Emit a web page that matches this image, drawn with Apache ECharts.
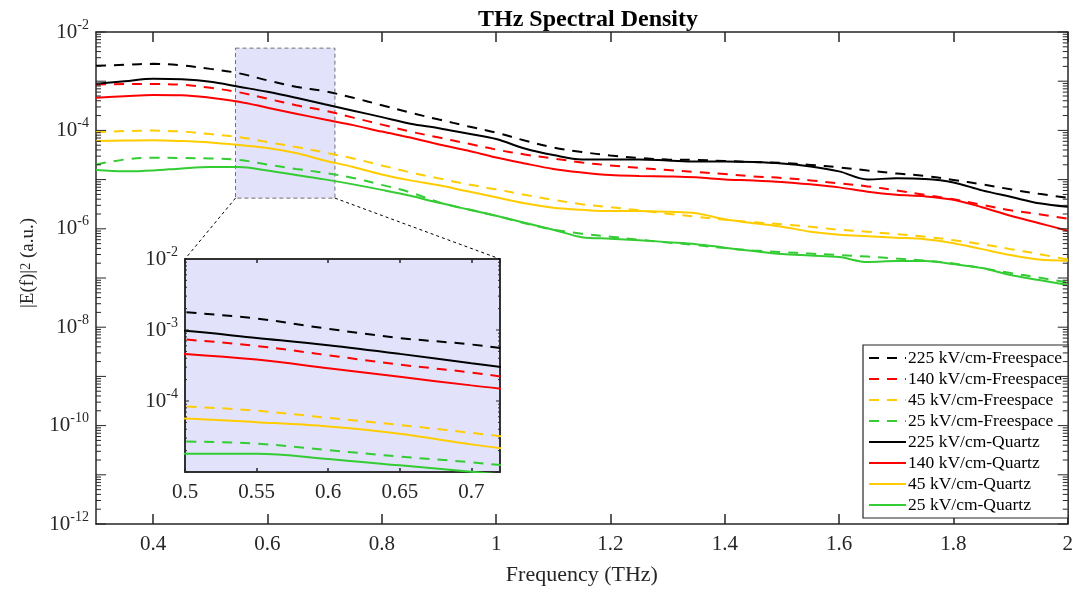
<!DOCTYPE html>
<html>
<head>
<meta charset="utf-8">
<script src="https://cdn.jsdelivr.net/npm/echarts@6/dist/echarts.min.js"></script>
<style>
html, body { margin: 0; padding: 0; background: #fff; }
#main { width: 1076px; height: 591px; }
</style>
</head>
<body>
<div id="main"></div>
<script>
// frequency grid (THz)
var freq = [0.30, 0.35, 0.40, 0.45, 0.50, 0.55, 0.60, 0.65, 0.70, 0.75, 0.80, 0.85, 0.90, 0.95, 1.00,
            1.05, 1.10, 1.15, 1.20, 1.25, 1.30, 1.35, 1.40, 1.45, 1.50, 1.55, 1.60, 1.65, 1.70, 1.75,
            1.80, 1.85, 1.90, 1.95, 2.00];

// |E(f)|^2, freespace (dashed)
var fs225 = [2.05e-3, 2.15e-3, 2.25e-3, 2.10e-3, 1.78e-3, 1.45e-3, 1.04e-3, 7.71e-4, 6.25e-4, 4.61e-4,
             3.25e-4, 2.29e-4, 1.66e-4, 1.22e-4, 9.02e-5, 6.22e-5, 4.49e-5, 3.64e-5, 3.09e-5, 2.75e-5,
             2.56e-5, 2.51e-5, 2.39e-5, 2.28e-5, 2.18e-5, 1.99e-5, 1.77e-5, 1.53e-5, 1.33e-5, 1.19e-5,
             9.86e-6, 8.0e-6, 6.34e-6, 5.13e-6, 4.27e-6];
var fs140 = [8.57e-4, 8.73e-4, 8.77e-4, 8.45e-4, 7.35e-4, 5.96e-4, 4.41e-4, 3.25e-4, 2.52e-4, 1.82e-4,
             1.31e-4, 9.46e-5, 7.15e-5, 5.41e-5, 4.08e-5, 3.24e-5, 2.69e-5, 2.23e-5, 1.94e-5, 1.73e-5,
             1.57e-5, 1.43e-5, 1.30e-5, 1.16e-5, 1.08e-5, 9.64e-6, 8.37e-6, 7.28e-6, 6.04e-6, 4.90e-6,
             3.97e-6, 3.08e-6, 2.38e-6, 1.98e-6, 1.60e-6];
var fs45 = [9.16e-5, 9.68e-5, 9.91e-5, 9.46e-5, 8.41e-5, 7.31e-5, 5.79e-5, 4.59e-5, 3.56e-5, 2.69e-5,
            1.94e-5, 1.40e-5, 1.06e-5, 8.0e-6, 6.34e-6, 4.90e-6, 3.88e-6, 3.15e-6, 2.74e-6, 2.38e-6,
            2.02e-6, 1.76e-6, 1.53e-6, 1.36e-6, 1.24e-6, 1.10e-6, 9.59e-7, 8.73e-7, 7.78e-7, 6.92e-7,
            5.87e-7, 4.88e-7, 3.86e-7, 3.06e-7, 2.37e-7];
var fs25 = [2.03e-5, 2.56e-5, 2.77e-5, 2.75e-5, 2.69e-5, 2.51e-5, 2.03e-5, 1.65e-5, 1.37e-5, 1.08e-5,
            7.82e-6, 5.51e-6, 3.45e-6, 2.49e-6, 1.84e-6, 1.30e-6, 9.59e-7, 7.96e-7, 6.92e-7, 6.01e-7,
            5.24e-7, 4.66e-7, 4.05e-7, 3.61e-7, 3.36e-7, 3.13e-7, 2.92e-7, 2.72e-7, 2.48e-7, 2.26e-7,
            1.97e-7, 1.59e-7, 1.26e-7, 1.02e-7, 8.11e-8];

// |E(f)|^2, quartz (solid)
var qz225 = [8.85e-4, 9.95e-4, 1.12e-3, 1.09e-3, 9.73e-4, 7.71e-4, 6.10e-4, 4.61e-4, 3.40e-4, 2.52e-4,
             1.86e-4, 1.37e-4, 1.11e-4, 8.61e-5, 6.67e-5, 4.29e-5, 3.16e-5, 2.56e-5, 2.56e-5, 2.56e-5,
             2.45e-5, 2.33e-5, 2.33e-5, 2.28e-5, 2.13e-5, 1.85e-5, 1.47e-5, 1.01e-5, 1.06e-5, 1.03e-5,
             8.77e-6, 6.04e-6, 4.47e-6, 3.30e-6, 2.80e-6];
var qz140 = [4.61e-4, 4.94e-4, 5.26e-4, 5.19e-4, 4.61e-4, 3.83e-4, 2.90e-4, 2.19e-4, 1.66e-4, 1.28e-4,
             9.46e-5, 7.15e-5, 5.16e-5, 3.90e-5, 2.81e-5, 2.13e-5, 1.65e-5, 1.40e-5, 1.24e-5, 1.19e-5,
             1.16e-5, 1.11e-5, 1.01e-5, 9.64e-6, 8.97e-6, 8.0e-6, 6.95e-6, 5.64e-6, 4.90e-6, 4.57e-6,
             3.88e-6, 2.74e-6, 1.84e-6, 1.30e-6, 9.14e-7];
var qz45 = [6.12e-5, 6.22e-5, 6.31e-5, 6.07e-5, 5.66e-5, 5.04e-5, 4.39e-5, 3.47e-5, 2.45e-5, 1.81e-5,
            1.27e-5, 9.64e-6, 7.64e-6, 5.77e-6, 4.37e-6, 3.30e-6, 2.67e-6, 2.44e-6, 2.30e-6, 2.30e-6,
            2.22e-6, 2.07e-6, 1.56e-6, 1.30e-6, 1.10e-6, 8.73e-7, 7.59e-7, 7.08e-7, 6.61e-7, 6.15e-7,
            5.11e-7, 3.86e-7, 2.92e-7, 2.37e-7, 2.24e-7];
var qz25 = [1.56e-5, 1.47e-5, 1.53e-5, 1.69e-5, 1.81e-5, 1.81e-5, 1.53e-5, 1.24e-5, 1.01e-5, 8.0e-6,
            6.18e-6, 4.68e-6, 3.37e-6, 2.49e-6, 1.84e-6, 1.33e-6, 9.59e-7, 6.76e-7, 6.31e-7, 5.87e-7,
            5.36e-7, 4.88e-7, 4.14e-7, 3.52e-7, 3.06e-7, 2.86e-7, 2.66e-7, 2.11e-7, 2.21e-7, 2.21e-7,
            1.92e-7, 1.59e-7, 1.15e-7, 9.10e-8, 7.21e-8];

var seriesNames = ['225 kV/cm-Freespace', '140 kV/cm-Freespace', '45 kV/cm-Freespace', '25 kV/cm-Freespace',
                   '225 kV/cm-Quartz', '140 kV/cm-Quartz', '45 kV/cm-Quartz', '25 kV/cm-Quartz'];
var seriesValues = [fs225, fs140, fs45, fs25, qz225, qz140, qz45, qz25];

var xTicks = [0.4, 0.6, 0.8, 1, 1.2, 1.4, 1.6, 1.8, 2];
var xRange = [0.3, 2];
var yRange = [1e-12, 1e-2];
var insetXRange = [0.5, 0.72];
var insetYRange = [1e-5, 1e-2];
// highlighted region on the main plot
var boxX = [0.544, 0.718];
var boxY = [4.2e-6, 4.7e-3];

var colors = ['#000000', '#ff0000', '#ffcc00', '#33cc33'];
var serif = "'Liberation Serif', 'Times New Roman', serif";
var axisColor = '#262626';
var boxFill = '#e2e2fb';

var chart = echarts.init(document.getElementById('main'));

function powLabel(v) {
    return '10{s|' + Math.round(Math.log10(v)) + '}';
}
var powRich = {
    s: { fontSize: 14, fontFamily: serif, color: axisColor, verticalAlign: 'top', lineHeight: 13 }
};

function logAxis(grid, range, pos, showLabel, split) {
    return {
        type: 'log', logBase: 10, gridIndex: grid, position: pos,
        min: range[0], max: range[1], splitNumber: split, interval: split === 5 ? 2 : 1,
        axisLine: { show: true, onZero: false, lineStyle: { color: axisColor, width: 1.5 } },
        axisTick: { show: false },
        splitLine: { show: false },
        axisLabel: {
            show: showLabel, formatter: powLabel, rich: powRich, margin: 7,
            fontFamily: serif, fontSize: 21, color: axisColor, lineHeight: 28,
            showMinLabel: grid === 0
        }
    };
}

// decade + sub-decade tick values for the log axes
function logTickValues(range) {
    var lo = Math.round(Math.log10(range[0])), hi = Math.round(Math.log10(range[1]));
    var out = [];
    for (var k = lo; k < hi; k++) {
        for (var m = 1; m < 10; m++) out.push(m * Math.pow(10, k));
    }
    out.push(Math.pow(10, hi));
    return out;
}

function tickSeries(ax, xr, yr, major, minor) {
    return {
        type: 'custom', xAxisIndex: ax, yAxisIndex: ax, silent: true, z: 6, animation: false,
        encode: { x: 0, y: 1 },
        data: logTickValues(yr).map(function (v) { return [xr[0], v]; }),
        renderItem: function (params, api) {
            var v = api.value(1);
            var a = api.coord([xr[0], v]);
            var b = api.coord([xr[1], v]);
            var e = Math.log10(v);
            var L = Math.abs(e - Math.round(e)) < 1e-6 ? major : minor;
            var st = { stroke: axisColor, lineWidth: 1 };
            return {
                type: 'group', children: [
                    { type: 'line', shape: { x1: a[0], y1: a[1], x2: a[0] + L, y2: a[1] }, style: st },
                    { type: 'line', shape: { x1: b[0], y1: b[1], x2: b[0] - L, y2: b[1] }, style: st }
                ]
            };
        }
    };
}

var series = [];
seriesNames.forEach(function (name, i) {
    var pts = freq.map(function (f, j) { return [f, seriesValues[i][j]]; });
    var dashed = i < 4;
    [0, 2].forEach(function (ax) {
        var s = {
            name: name, type: 'line', xAxisIndex: ax, yAxisIndex: ax,
            data: pts, symbol: 'none', showSymbol: false, smooth: 0.35, clip: true,
            animation: false, z: dashed ? 3 : 4,
            lineStyle: { color: colors[i % 4], width: 2, type: dashed ? [10, 8] : 'solid' },
            itemStyle: { color: colors[i % 4] }
        };
        if (i === 0 && ax === 0) {
            s.markArea = {
                silent: true,
                itemStyle: { color: boxFill, borderColor: '#707070', borderWidth: 1, borderType: [4, 3] },
                data: [[{ coord: [boxX[0], boxY[1]] }, { coord: [boxX[1], boxY[0]] }]]
            };
        }
        series.push(s);
    });
});
series.push(tickSeries(0, xRange, yRange, 10, 5));
series.push(tickSeries(2, insetXRange, insetYRange, 4, 2));

var option = {
    backgroundColor: '#fff',
    animation: false,
    title: {
        text: 'THz Spectral Density',
        left: 583, top: 3, textAlign: 'center',
        textStyle: { fontFamily: serif, fontWeight: 'bold', fontSize: 24, color: '#000' }
    },
    legend: {
        data: seriesNames,
        orient: 'vertical', left: 863, top: 345,
        padding: [4, 6, 4, 5], itemGap: 3, itemWidth: 37, itemHeight: 14,
        backgroundColor: '#fff', borderColor: axisColor, borderWidth: 1.2,
        itemStyle: { opacity: 0 },
        textStyle: { fontFamily: serif, fontSize: 17.5, lineHeight: 17, color: '#000', padding: [0, 0, 0, -3] }
    },
    grid: [
        { left: 96, top: 32, right: 2, bottom: 65 },
        { left: 185, top: 259, width: 315, height: 213, show: true,
          backgroundColor: boxFill, borderColor: axisColor, borderWidth: 1.5 }
    ],
    xAxis: [
        {
            type: 'value', gridIndex: 0, min: xRange[0], max: xRange[1], position: 'bottom',
            name: 'Frequency (THz)', nameLocation: 'middle', nameGap: 40,
            nameTextStyle: { fontFamily: serif, fontSize: 22, color: axisColor },
            axisLine: { onZero: false, lineStyle: { color: axisColor, width: 1.5 } },
            axisTick: { inside: true, length: 10, customValues: xTicks, lineStyle: { color: axisColor, width: 1.5 } },
            axisLabel: { customValues: xTicks, fontFamily: serif, fontSize: 21, color: axisColor, margin: 10,
                         formatter: function (v) { return String(+v.toFixed(2)); } },
            splitLine: { show: false }
        },
        {
            type: 'value', gridIndex: 0, min: xRange[0], max: xRange[1], position: 'top',
            axisLine: { onZero: false, lineStyle: { color: axisColor, width: 1.5 } },
            axisTick: { inside: true, length: 10, customValues: xTicks, lineStyle: { color: axisColor, width: 1.5 } },
            axisLabel: { show: false }, splitLine: { show: false }
        },
        {
            type: 'value', gridIndex: 1, min: insetXRange[0], max: insetXRange[1], interval: 0.05, position: 'bottom',
            axisLine: { onZero: false, lineStyle: { color: axisColor, width: 1.5 } },
            axisTick: { inside: true, length: 4, lineStyle: { color: axisColor, width: 1.5 } },
            axisLabel: { fontFamily: serif, fontSize: 21, color: axisColor, margin: 10, showMaxLabel: false,
                         formatter: function (v) { return String(+v.toFixed(2)); } },
            splitLine: { show: false }
        },
        {
            type: 'value', gridIndex: 1, min: insetXRange[0], max: insetXRange[1], interval: 0.05, position: 'top',
            axisLine: { onZero: false, lineStyle: { color: axisColor, width: 1.5 } },
            axisTick: { inside: true, length: 4, lineStyle: { color: axisColor, width: 1.5 } },
            axisLabel: { show: false }, splitLine: { show: false }
        }
    ],
    yAxis: [
        Object.assign(logAxis(0, yRange, 'left', true, 5), {
            name: '|E(f)|{s|2} (a.u.)', nameLocation: 'middle', nameGap: 58,
            nameTextStyle: { fontFamily: serif, fontSize: 19, color: axisColor, rich: powRich, padding: [0, 0, 0, 30] }
        }),
        logAxis(0, yRange, 'right', false, 5),
        logAxis(1, insetYRange, 'left', true, 3),
        logAxis(1, insetYRange, 'right', false, 3)
    ],
    series: series
};
chart.setOption(option);

// dashed connectors from the highlighted box to the inset
var bl = chart.convertToPixel({ xAxisIndex: 0, yAxisIndex: 0 }, [boxX[0], boxY[0]]);
var br = chart.convertToPixel({ xAxisIndex: 0, yAxisIndex: 0 }, [boxX[1], boxY[0]]);
var il = chart.convertToPixel({ xAxisIndex: 2, yAxisIndex: 2 }, [insetXRange[0], insetYRange[1]]);
var ir = chart.convertToPixel({ xAxisIndex: 2, yAxisIndex: 2 }, [insetXRange[1], insetYRange[1]]);
var dash = { stroke: '#000', lineWidth: 1, lineDash: [3, 3] };
chart.setOption({
    graphic: [
        { type: 'line', z: 10, shape: { x1: bl[0], y1: bl[1], x2: il[0], y2: il[1] }, style: dash },
        { type: 'line', z: 10, shape: { x1: br[0], y1: br[1], x2: ir[0], y2: ir[1] }, style: dash }
    ]
});
</script>
</body>
</html>
